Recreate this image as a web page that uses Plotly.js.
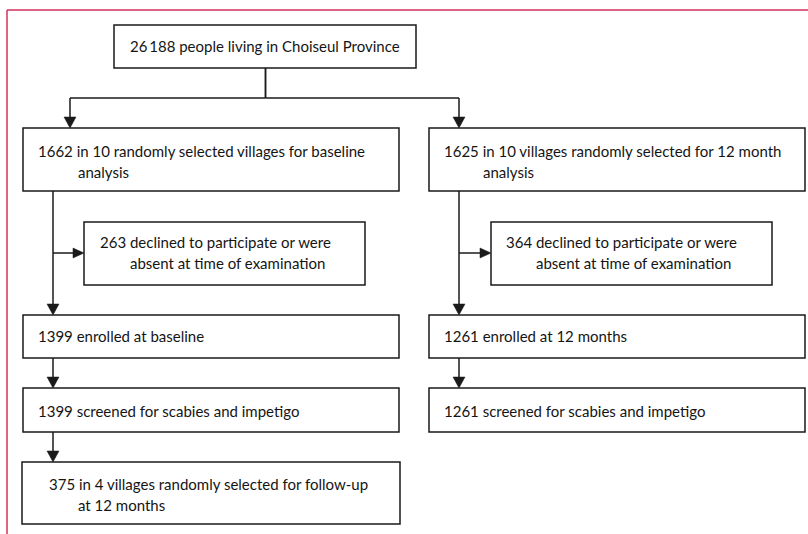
<!DOCTYPE html>
<html>
<head>
<meta charset="utf-8">
<script src="https://cdn.plot.ly/plotly-3.0.1.min.js"></script>
<style>html,body{margin:0;padding:0;background:#fff;}#chart{width:808px;height:534px;}</style>
</head>
<body>
<div id="chart"></div>
<script>
// ---- data: flow-chart node contents ----
const nodeIds = ["pop", "baseSel", "fuSel", "baseDecl", "fuDecl", "baseEnr", "fuEnr", "baseScr", "fuScr", "followUp"];
const counts = ["26\u2009188", "1662", "1625", "263", "364", "1399", "1261", "1399", "1261", "375"];
const firstLines = [
  "people living in Choiseul Province",
  "in 10 randomly selected villages for baseline",
  "in 10 villages randomly selected for 12 month",
  "declined to participate or were",
  "declined to participate or were",
  "enrolled at baseline",
  "enrolled at 12 months",
  "screened for scabies and impetigo",
  "screened for scabies and impetigo",
  "in 4 villages randomly selected for follow-up"
];
const secondLines = ["", "analysis", "analysis", "absent at time of examination", "absent at time of examination", "", "", "", "", "at 12 months"];
// connections: [from, to]
const links = [["pop","baseSel"],["pop","fuSel"],["baseSel","baseDecl"],["fuSel","fuDecl"],["baseSel","baseEnr"],["fuSel","fuEnr"],["baseEnr","baseScr"],["fuEnr","fuScr"],["baseScr","followUp"]];

// ---- layout geometry (pixels) ----
const geom = {
  pop:      {x0:114, x1:416, y0:25,  y1:68,  tx:128, ty:[46],      indent:0},
  baseSel:  {x0:23,  x1:399, y0:128, y1:191, tx:36,  ty:[151,172], indent:40},
  fuSel:    {x0:429, x1:805, y0:128, y1:191, tx:442, ty:[151,172], indent:39},
  baseDecl: {x0:84,  x1:365, y0:222, y1:285, tx:98,  ty:[242,263], indent:30},
  fuDecl:   {x0:491, x1:772, y0:222, y1:285, tx:504, ty:[242,263], indent:30},
  baseEnr:  {x0:23,  x1:399, y0:315, y1:358, tx:36,  ty:[336],     indent:0},
  fuEnr:    {x0:429, x1:805, y0:315, y1:358, tx:442, ty:[336],     indent:0},
  baseScr:  {x0:23,  x1:399, y0:388, y1:432, tx:36,  ty:[411],     indent:0},
  fuScr:    {x0:429, x1:805, y0:388, y1:432, tx:442, ty:[411],     indent:0},
  followUp: {x0:22,  x1:400, y0:462, y1:524, tx:47,  ty:[484,505], indent:29}
};
const LC = "#1a1a1a", LW = 1.5, AH = 11, AW = 6;
const FONT = {family: "Lato, 'Open Sans', sans-serif", size: 15, color: "#151515"};

const shapes = [];
const annotations = [];
function line(x0,y0,x1,y1){ shapes.push({type:"line", xref:"x", yref:"y", x0, y0, x1, y1, line:{color:LC, width:LW}}); }
function head(x,y,dir){
  let p;
  if(dir==="down") p = `M${x-AW},${y-AH} L${x+AW},${y-AH} L${x},${y} Z`;
  else p = `M${x-AH},${y-AW+1} L${x-AH},${y+AW-1} L${x},${y} Z`;
  shapes.push({type:"path", xref:"x", yref:"y", path:p, fillcolor:LC, line:{color:LC, width:0.5}});
}

// boxes + text
nodeIds.forEach((id,i)=>{
  const g = geom[id];
  shapes.push({type:"rect", xref:"x", yref:"y", x0:g.x0, x1:g.x1, y0:g.y0, y1:g.y1, line:{color:LC, width:LW}, fillcolor:"rgba(0,0,0,0)"});
  annotations.push({xref:"x", yref:"y", x:g.tx, y:g.ty[0], xanchor:"left", yanchor:"middle", showarrow:false, text:counts[i]+" "+firstLines[i], font:FONT});
  if(secondLines[i]) annotations.push({xref:"x", yref:"y", x:g.tx+g.indent, y:g.ty[1], xanchor:"left", yanchor:"middle", showarrow:false, text:secondLines[i], font:FONT});
});

// connectors
const spineX = {baseSel:53, fuSel:459, baseEnr:53, fuEnr:459, baseScr:53};
const splitY = 98, branchY = 253;
links.forEach(([a,b])=>{
  const ga = geom[a], gb = geom[b];
  if(a==="pop"){
    const cx = (ga.x0+ga.x1)/2 + 0.5;
    const tx = b==="baseSel" ? 70 : 459;
    line(cx, ga.y1, cx, splitY);
    line(cx, splitY, tx, splitY);
    line(tx, splitY, tx, gb.y0-AH+1);
    head(tx, gb.y0, "down");
  } else if(b.endsWith("Decl")){
    const sx = spineX[a];
    line(sx, branchY, gb.x0-AH+1, branchY);
    head(gb.x0, branchY, "right");
  } else {
    const sx = spineX[a];
    line(sx, ga.y1, sx, gb.y0-AH+1);
    head(sx, gb.y0, "down");
  }
});

// red frame
shapes.push({type:"line", xref:"paper", yref:"y", x0:7/808, x1:1, y0:10, y1:10, line:{color:"#d5325b", width:1.5}});
shapes.push({type:"line", xref:"x", yref:"paper", x0:7, x1:7, y0:0, y1:1-10/534, line:{color:"#d5325b", width:1.5}});

const layout = {
  width:808, height:534,
  margin:{l:0, r:0, t:0, b:0},
  paper_bgcolor:"#fff", plot_bgcolor:"#fff",
  xaxis:{range:[0,808], visible:false, fixedrange:true},
  yaxis:{range:[534,0], visible:false, fixedrange:true},
  shapes, annotations, showlegend:false
};
Plotly.newPlot("chart", [{x:[], y:[], type:"scatter", mode:"markers", hoverinfo:"skip"}], layout, {staticPlot:true, displayModeBar:false});
</script>
</body>
</html>
